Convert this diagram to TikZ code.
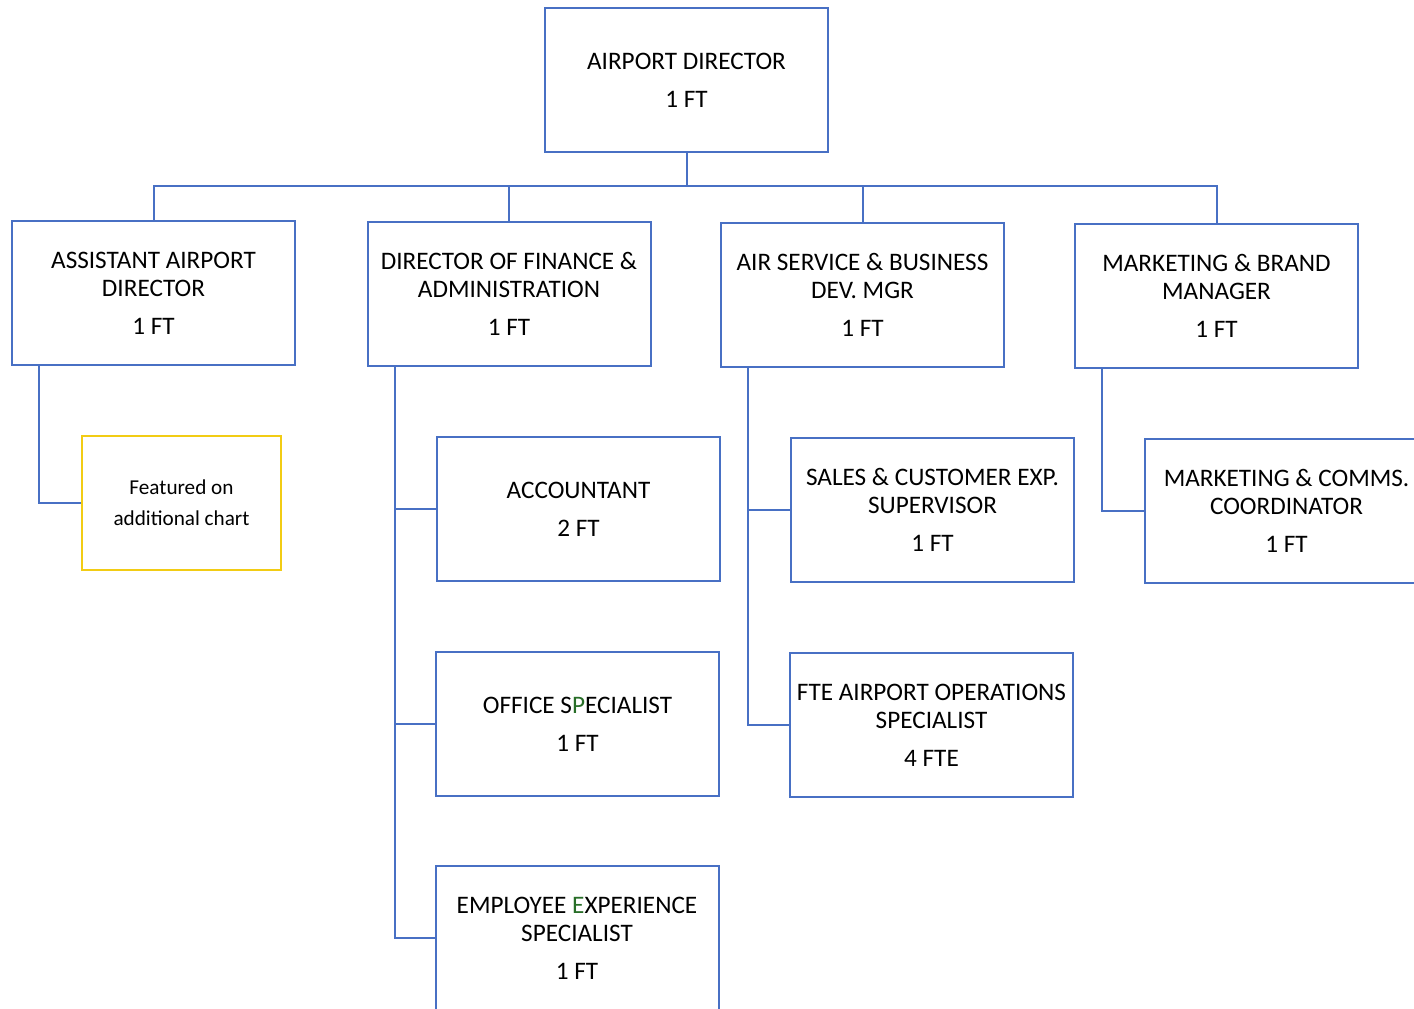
\documentclass[tikz,border=0pt]{standalone}
\usepackage{fontspec}
\setmainfont{Carlito}
\usepackage{xcolor}
\usepackage{tikz}

\definecolor{boxblue}{RGB}{72,112,196}
\definecolor{noteyellow}{RGB}{242,204,20}
\definecolor{markgreen}{RGB}{40,110,40}

\begin{document}
\begin{tikzpicture}[x=0.5pt,y=-0.5pt,
    post/.style={draw=boxblue,line width=1pt,fill=white,align=center,
        minimum width=141.5pt,minimum height=72pt,inner sep=0pt,
        font=\fontsize{12.6}{14}\selectfont},
    note/.style={draw=noteyellow,line width=1pt,fill=white,align=center,
        minimum width=99.5pt,minimum height=67pt,inner sep=0pt,
        font=\fontsize{10.6}{15.5}\selectfont},
    link/.style={draw=boxblue,line width=1pt}]
\useasboundingbox (0,0) rectangle (1414,1008);
\clip (0,0) rectangle (1414,1008);

% Top
\node[post] (dir) at (686.5,80) {AIRPORT DIRECTOR\\[5pt]1 FT};

% Second row
\node[post] (asst) at (153.5,293) {ASSISTANT AIRPORT\\DIRECTOR\\[5pt]1 FT};
\node[post] (fin)  at (509,294)   {DIRECTOR OF FINANCE \&\\ADMINISTRATION\\[5pt]1 FT};
\node[post] (air)  at (862.5,295) {AIR SERVICE \& BUSINESS\\DEV. MGR\\[5pt]1 FT};
\node[post] (mkt)  at (1216.5,296) {MARKETING \& BRAND\\MANAGER\\[5pt]1 FT};

% Under assistant director
\node[note] (feat) at (181.5,503) {Featured on\\additional chart};

% Under finance
\node[post] (acct) at (578.5,509) {ACCOUNTANT\\[5pt]2 FT};
\node[post] (office) at (577.5,724) {OFFICE S{\color{markgreen}P}ECIALIST\\[5pt]1 FT};
\node[post] (empl) at (577,938) {EMPLOYEE {\color{markgreen}E}XPERIENCE\\SPECIALIST\\[5pt]1 FT};

% Under air service
\node[post] (sales) at (932.5,510) {SALES \& CUSTOMER EXP.\\SUPERVISOR\\[5pt]1 FT};
\node[post] (ops)   at (931.5,725) {FTE AIRPORT OPERATIONS\\SPECIALIST\\[5pt]4 FTE};

% Under marketing
\node[post] (comms) at (1286.5,511) {MARKETING \& COMMS.\\COORDINATOR\\[5pt]1 FT};

% Bus
\coordinate (bus) at (686.5,186);
\draw[link] (dir.south) -- (bus);
\draw[link] (asst.north) |- (bus) -| (mkt.north);
\draw[link] (fin.north) -- (fin.north |- bus);
\draw[link] (air.north) -- (air.north |- bus);

% Branches
\draw[link] ([xshift=14pt]asst.south west) |- (feat.west);
\draw[link] ([xshift=14pt]fin.south west) |- (acct.west);
\draw[link] ([xshift=14pt]fin.south west) |- (office.west);
\draw[link] ([xshift=14pt]fin.south west) |- (empl.west);
\draw[link] ([xshift=14pt]air.south west) |- (sales.west);
\draw[link] ([xshift=14pt]air.south west) |- (ops.west);
\draw[link] ([xshift=14pt]mkt.south west) |- (comms.west);

\end{tikzpicture}
\end{document}
